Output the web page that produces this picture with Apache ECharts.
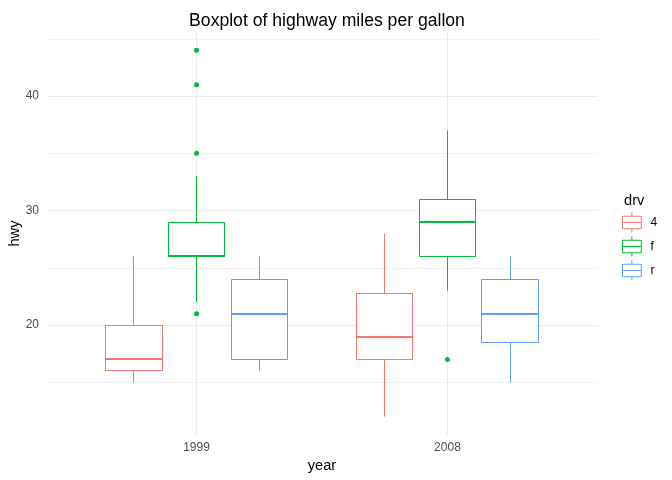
<!DOCTYPE html>
<html><head><meta charset="utf-8">
<script src="https://cdn.jsdelivr.net/npm/echarts@6/dist/echarts.min.js"></script>
<style>html,body{margin:0;padding:0;background:#fff}#c{width:672px;height:480px}</style>
</head><body><div id="c"></div>
<script>
// ---- data ----
const years = ['1999', '2008'];
const drvs = ['4', 'f', 'r'];
const colors = ['#F8766D', '#00BA38', '#619CFF'];
// [lower whisker, Q1, median, Q3, upper whisker] for 1999 and 2008
const box4 = [[15, 16, 17, 20, 26], [12, 17, 19, 22.75, 28]];
const boxF = [[22, 26, 26, 29, 33], [23, 26, 29, 31, 37]];
const boxR = [[16, 17, 21, 24, 26], [15, 18.5, 21, 24, 26]];
// outliers for 1999 and 2008
const out4 = [[], []];
const outF = [[21, 35, 41, 44], [17]];
const outR = [[], []];
const yMajor = [20, 30, 40];
const yMinor = [15, 25, 35, 45];

const boxes = [box4, boxF, boxR];
const outs = [out4, outF, outR];
const FONT = '"Liberation Sans", Arial, sans-serif';
const dodge = 0.25, halfW = 0.1125;

function px(v) { return Math.round(v - 0.5) + 0.5; }

function makeRender(offset, color) {
  return function (params, api) {
    const x = api.value(0) + offset;
    const lo = api.coord([x, api.value(1)]);
    const q1 = api.coord([x, api.value(2)]);
    const q3 = api.coord([x, api.value(4)]);
    const hi = api.coord([x, api.value(5)]);
    const bl = api.coord([x - halfW, api.value(2)]);
    const tr = api.coord([x + halfW, api.value(4)]);
    const ml = api.coord([x - halfW, api.value(3)]);
    const mr = api.coord([x + halfW, api.value(3)]);
    const cx = px(lo[0]);
    const x0 = px(bl[0]), x1 = px(tr[0]), y0 = px(tr[1]), y1 = px(bl[1]);
    return {
      type: 'group',
      children: [
        { type: 'line', shape: { x1: cx, y1: hi[1], x2: cx, y2: q3[1] }, style: { stroke: color, lineWidth: 1 } },
        { type: 'line', shape: { x1: cx, y1: lo[1], x2: cx, y2: q1[1] }, style: { stroke: color, lineWidth: 1 } },
        { type: 'rect', shape: { x: x0, y: y0, width: x1 - x0, height: y1 - y0 }, style: { fill: '#ffffff', stroke: color, lineWidth: 1 } },
        { type: 'line', shape: { x1: x0, y1: Math.round(ml[1]), x2: x1, y2: Math.round(mr[1]) }, style: { stroke: color, lineWidth: 2 } }
      ]
    };
  };
}

const series = [];
drvs.forEach(function (d, i) {
  const offset = (i - 1) * dodge;
  series.push({
    name: d, type: 'custom', xAxisIndex: 0, yAxisIndex: 0,
    renderItem: makeRender(offset, colors[i]),
    encode: { x: 0, y: [1, 2, 3, 4, 5] },
    itemStyle: { color: colors[i] },
    data: years.map(function (y, j) { return [j + 1].concat(boxes[i][j]); }),
    z: 2
  });
  const pts = [];
  years.forEach(function (y, j) {
    outs[i][j].forEach(function (v) { pts.push([j + 1 + offset, v]); });
  });
  series.push({
    name: d, type: 'scatter', xAxisIndex: 0, yAxisIndex: 0,
    symbol: 'circle', symbolSize: 5,
    itemStyle: { color: colors[i], opacity: 1 },
    emphasis: { disabled: true },
    data: pts, z: 3
  });
});

const iconPath = 'path://M37.5,0L37.5,15M0,15L75,15L75,65L0,65ZM0,40L75,40M37.5,65L37.5,80';

const option = {
  animation: false,
  backgroundColor: '#ffffff',
  textStyle: { fontFamily: FONT },
  title: [
    { text: 'Boxplot of highway miles per gallon', left: 322, top: 7, textAlign: 'center',
      textStyle: { fontFamily: FONT, fontSize: 17.6, fontWeight: 'normal', color: '#000' } },
    { text: 'drv', left: 619, top: 188,
      textStyle: { fontFamily: FONT, fontSize: 14.67, fontWeight: 'normal', color: '#000' } }
  ],
  legend: {
    orient: 'vertical', left: 622, top: 212, padding: 0,
    itemWidth: 19, itemHeight: 20, itemGap: 3,
    selectedMode: false,
    textStyle: { fontFamily: FONT, fontSize: 12, color: '#000', padding: [0, 0, 0, 4] },
    data: drvs.map(function (d, i) {
      return { name: d, icon: iconPath, itemStyle: { color: '#ffffff', borderColor: colors[i], borderWidth: 1 } };
    })
  },
  grid: { left: 46, right: 74, top: 32, bottom: 45, containLabel: false, outerBoundsMode: 'none' },
  xAxis: [{
    type: 'value', min: 0.4, max: 2.6,
    name: 'year', nameLocation: 'middle', nameGap: 23, nameMoveOverlap: false,
    nameTextStyle: { fontFamily: FONT, fontSize: 14.67, color: '#000' },
    axisLine: { show: false },
    axisTick: { show: false, customValues: [1, 2] },
    axisLabel: { customValues: [1, 2], margin: 7, fontFamily: FONT, fontSize: 12, color: '#4D4D4D',
      formatter: function (v) { return years[Math.round(v) - 1]; } },
    splitLine: { show: true, lineStyle: { color: '#EBEBEB', width: 1 } }
  }],
  yAxis: [{
    type: 'value', min: 10.4, max: 45.6,
    name: 'hwy', nameLocation: 'middle', nameGap: 24, nameRotate: 90, nameMoveOverlap: false,
    nameTextStyle: { fontFamily: FONT, fontSize: 14.67, color: '#000' },
    axisLine: { show: false },
    axisTick: { show: false, customValues: yMajor },
    axisLabel: { customValues: yMajor, margin: 7, fontFamily: FONT, fontSize: 12, color: '#4D4D4D' },
    splitLine: { show: true, lineStyle: { color: '#EBEBEB', width: 1 } }
  }, {
    type: 'value', min: 10.4, max: 45.6, position: 'left',
    axisLine: { show: false },
    axisTick: { show: false, customValues: yMinor },
    axisLabel: { show: false, customValues: yMinor },
    splitLine: { show: true, lineStyle: { color: '#F2F2F2', width: 1 } }
  }],
  series: series
};
const chart = echarts.init(document.getElementById('c'), null, { renderer: 'canvas' });
chart.setOption(option);
</script>
</body></html>
